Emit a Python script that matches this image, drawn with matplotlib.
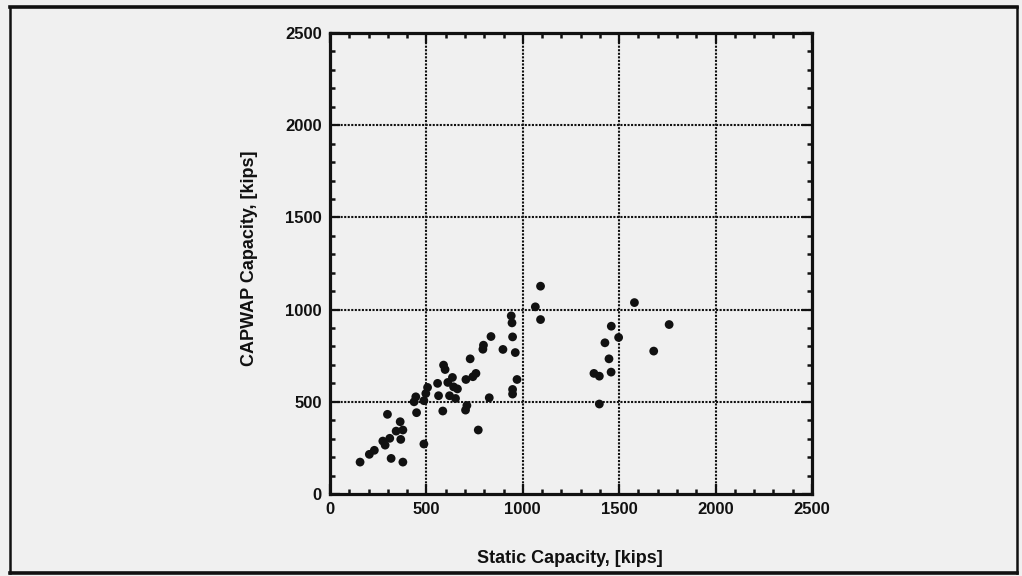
import matplotlib
matplotlib.use("Agg")
import matplotlib.pyplot as plt
from matplotlib.lines import Line2D
from matplotlib.ticker import MultipleLocator

# ---- data ----
static_capacity = [156, 204, 230, 274, 286, 298, 310, 317, 343, 364, 378, 367, 378,
                   436, 445, 449, 487, 487, 497, 506, 558, 563, 585, 589, 597, 611,
                   620, 635, 641, 651, 661, 703, 710, 705, 727, 741, 757, 769, 793,
                   796, 826, 835, 897, 940, 944, 947, 961, 970, 947, 947, 1065, 1092,
                   1092, 1579, 1459, 1497, 1759, 1426, 1679, 1447, 1369, 1397, 1458, 1397]
capwap_capacity = [173, 215, 237, 287, 265, 432, 302, 193, 341, 392, 347, 296, 173,
                   500, 527, 441, 271, 506, 545, 578, 600, 533, 450, 699, 675, 605,
                   533, 632, 581, 518, 570, 455, 480, 621, 733, 636, 654, 347, 785,
                   807, 522, 854, 784, 966, 928, 852, 767, 621, 567, 542, 1015, 1127,
                   946, 1038, 910, 849, 919, 820, 775, 733, 654, 639, 661, 488]
major_ticks = [0, 500, 1000, 1500, 2000, 2500]
grid_values = [500, 1000, 1500, 2000]
x_label = "Static Capacity, [kips]"
y_label = "CAPWAP Capacity, [kips]"

BG = "#f0f0f0"
INK = "#111111"

fig = plt.figure(figsize=(10.22, 5.76), dpi=100, facecolor=BG)
ax = fig.add_axes([330/1022, 82/576, 482/1022, 461/576], facecolor=BG)

ax.set_xlim(0, 2500)
ax.set_ylim(0, 2500)

for v in grid_values:
    ax.axhline(v, color=INK, lw=1.5, ls=(0, (1, 0.7)), zorder=1)
    ax.axvline(v, color=INK, lw=1.5, ls=(0, (1, 0.7)), zorder=1)

ax.scatter(static_capacity, capwap_capacity, s=40, color=INK, edgecolors="none", zorder=3)

ax.set_xticks(major_ticks)
ax.set_yticks(major_ticks)
ax.xaxis.set_minor_locator(MultipleLocator(100))
ax.yaxis.set_minor_locator(MultipleLocator(100))
ax.tick_params(which="both", direction="in", top=True, right=True, color=INK)
ax.tick_params(which="major", length=7, width=1.6, pad=6)
ax.tick_params(which="minor", length=3.5, width=1.8)
for lab in ax.get_xticklabels() + ax.get_yticklabels():
    lab.set_fontfamily("Liberation Sans")
    lab.set_fontweight("bold")
    lab.set_fontsize(12)
    lab.set_color(INK)

for sp in ax.spines.values():
    sp.set_linewidth(2.3)
    sp.set_color(INK)

ax.set_xlabel(x_label, fontsize=13, fontweight="bold", family="Liberation Sans", color=INK)
ax.set_ylabel(y_label, fontsize=13, fontweight="bold", family="Liberation Sans", color=INK)
ax.xaxis.set_label_coords(0.498, -0.121)
ax.yaxis.set_label_coords(-0.149, 0.512)

# outer frame of the scanned figure
L, R, T, B = 9.5/1022, 1016.5/1022, 1 - 6.5/576, 1 - 573/576
fig.add_artist(Line2D([L, R], [T, T], transform=fig.transFigure, color=INK, lw=2.6))
fig.add_artist(Line2D([L, R], [B, B], transform=fig.transFigure, color=INK, lw=2.6))
fig.add_artist(Line2D([L, L], [B, T], transform=fig.transFigure, color=INK, lw=1.8))
fig.add_artist(Line2D([R, R], [B, T], transform=fig.transFigure, color=INK, lw=1.8))

fig.savefig("out.png", dpi=100, facecolor=BG)
